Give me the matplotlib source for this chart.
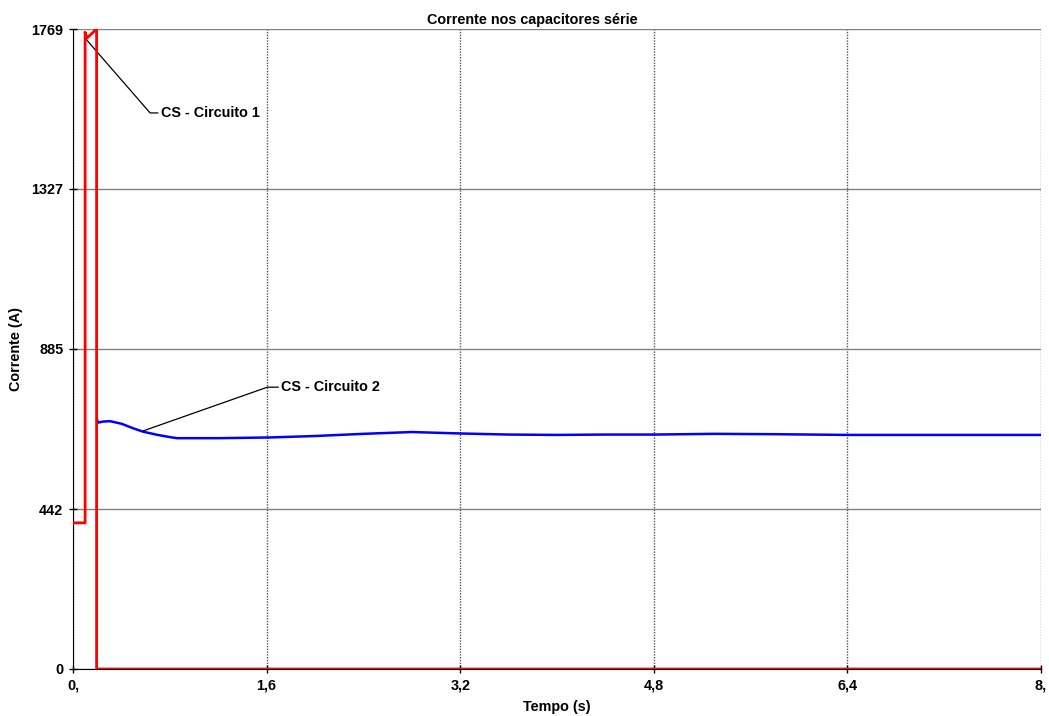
import numpy as np
import matplotlib
matplotlib.use("Agg")
import matplotlib.pyplot as plt

plt.rcParams['font.family'] = ['Liberation Sans', 'DejaVu Sans']
plt.rcParams['font.weight'] = 'bold'

# CS - Circuito 1 (red)
t_c1 = [0.0, 0.1, 0.1, 0.115, 0.195, 0.195, 8.0]
i_c1 = [404, 404, 1760, 1744, 1769, 0, 0]

# CS - Circuito 2 (blue)
t_c2 = [0.198, 0.207, 0.25, 0.306, 0.4, 0.5, 0.579, 0.7, 0.8, 0.86, 1.2, 1.63,
        2.0, 2.4, 2.8, 3.2, 3.6, 4.0, 4.4, 4.8, 5.3, 5.8, 6.4, 7.2, 8.0]
i_c2 = [690, 681, 684, 685, 678, 665, 656, 647, 641, 638, 638, 640,
        644, 650, 655, 651, 648, 647, 648, 648, 650, 649, 647, 647, 647]

x_ticks = [0, 1.6, 3.2, 4.8, 6.4, 8.0]
x_labels = ['0,', '1,6', '3,2', '4,8', '6,4', '8,']
y_ticks = [0, 442, 885, 1327, 1769]

fs = 10.4

fig = plt.figure(figsize=(10.49, 7.16), dpi=100)
ax = fig.add_axes([73 / 1049, 47 / 716, 968 / 1049, 640 / 716])

ax.plot(t_c2, i_c2, color='#0000FF', lw=1.8, zorder=3)
ax.plot(t_c1, i_c1, color='#FF0000', lw=2.0, zorder=4)

ax.set_xlim(0, 8)
ax.set_ylim(0, 1769)
ax.set_xticks(x_ticks)
ax.set_xticklabels(x_labels)
ax.set_yticks(y_ticks)
ax.set_yticklabels([str(v) for v in y_ticks])
ax.tick_params(direction='inout', length=6, width=1, labelsize=fs, pad=4)

ax.yaxis.grid(True, color='#808080', lw=1, ls='-')
ax.xaxis.grid(True, color='#555555', lw=1, ls=(0, (1, 1)))
ax.set_axisbelow(True)
ax.spines['top'].set_visible(False)
ax.spines['right'].set_visible(False)

fig.text(532 / 1049, 1 - 20 / 716, 'Corrente nos capacitores série', fontsize=fs,
         fontweight='bold', ha='center', va='center')
ax.set_xlabel('Tempo (s)', fontsize=fs, fontweight='bold', labelpad=5)
ax.set_ylabel('Corrente (A)', fontsize=fs, fontweight='bold', labelpad=6)

ax.annotate('CS - Circuito 1', xy=(0.107, 1741), xytext=(0.725, 1537),
            fontsize=fs, fontweight='bold', va='center', ha='left',
            arrowprops=dict(arrowstyle='-', lw=0.9, color='black', relpos=(0, 0.5),
                            shrinkA=0, shrinkB=0,
                            connectionstyle='angle,angleA=0,angleB=-49,rad=0'))
ax.annotate('CS - Circuito 2', xy=(0.579, 658), xytext=(1.72, 779),
            fontsize=fs, fontweight='bold', va='center', ha='left',
            arrowprops=dict(arrowstyle='-', lw=0.9, color='black', relpos=(0, 0.5),
                            shrinkA=0, shrinkB=0,
                            connectionstyle='angle,angleA=0,angleB=19.4,rad=0'))

fig.savefig('out.png', dpi=100)
